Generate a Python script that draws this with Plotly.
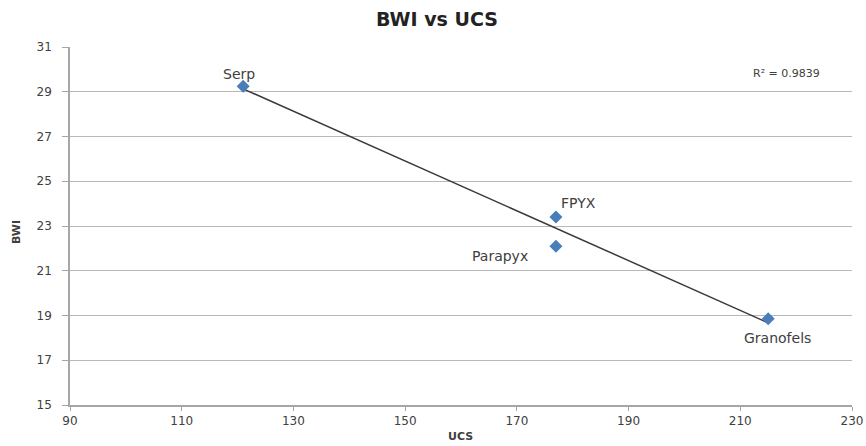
import numpy as np
import plotly.graph_objects as go

rocks = ["Serp", "FPYX", "Parapyx", "Granofels"]
ucs = [121, 177, 177, 215]
bwi = [29.25, 23.4, 22.1, 18.85]
r2_text = "R² = 0.9839"

# label pixel offsets (style only)
label_dx = [-4, 23, -56, 9]
label_dy = [12, 14, -10, -19]

slope, intercept = np.polyfit(ucs, bwi, 1)
tx = [min(ucs), max(ucs)]
ty = [slope * v + intercept for v in tx]

FONT = "DejaVu Sans"
TXT = "#404040"

W, H = 866, 446
ml, mr, mt, mb = 70, 14, 47, 41
pw, ph = W - ml - mr, H - mt - mb


def px_to_paper(xp, yp):
    return (xp - ml) / pw, (H - mb - yp) / ph


fig = go.Figure()
fig.add_trace(go.Scatter(x=tx, y=ty, mode="lines",
                         line=dict(color="#3a3a3a", width=1.5),
                         hoverinfo="skip", showlegend=False))
fig.add_trace(go.Scatter(x=ucs, y=bwi, mode="markers",
                         marker=dict(symbol="diamond", size=10, color="#4a7ebb"),
                         showlegend=False))

for name, x, y, dx, dy in zip(rocks, ucs, bwi, label_dx, label_dy):
    fig.add_annotation(x=x, y=y, text=name, showarrow=False,
                       xshift=dx, yshift=dy, xanchor="center", yanchor="middle",
                       font=dict(family=FONT, size=14, color=TXT))

rx, ry = px_to_paper(786, 73)
fig.add_annotation(x=rx, y=ry, xref="paper", yref="paper", text=r2_text,
                   showarrow=False, xanchor="center", yanchor="middle",
                   font=dict(family=FONT, size=11, color=TXT))

ux, uy = px_to_paper(460, 437)
fig.add_annotation(x=ux, y=uy, xref="paper", yref="paper", text="<b>UCS</b>",
                   showarrow=False, xanchor="center", yanchor="middle",
                   font=dict(family=FONT, size=11, color=TXT))
bx, by = px_to_paper(17, 232)
fig.add_annotation(x=bx, y=by, xref="paper", yref="paper", text="<b>BWI</b>",
                   showarrow=False, xanchor="center", yanchor="middle", textangle=-90,
                   font=dict(family=FONT, size=11, color=TXT))

fig.update_layout(
    width=W, height=H,
    margin=dict(l=ml, r=mr, t=mt, b=mb, autoexpand=False),
    paper_bgcolor="white", plot_bgcolor="white",
    title=dict(text="<b>BWI vs UCS</b>", x=437 / W, xanchor="center",
               y=1 - 19 / H, yanchor="middle",
               font=dict(family=FONT, size=19, color="#222222")),
    font=dict(family=FONT, color=TXT),
)
fig.update_xaxes(range=[90, 230], dtick=20, tick0=90, showgrid=False,
                 showline=True, linecolor="#a6a6a6", linewidth=1.5,
                 ticks="outside", ticklen=4, tickcolor="#a6a6a6",
                 tickfont=dict(size=12, color=TXT), automargin=False,
                 ticklabelstandoff=0, ticklabeloverflow="allow", zeroline=False)
fig.update_yaxes(range=[15, 31], dtick=2, tick0=15, showgrid=True,
                 gridcolor="#b8b8b8", gridwidth=1.2,
                 showline=True, linecolor="#a6a6a6", linewidth=1.5,
                 ticks="outside", ticklen=6, tickcolor="#a6a6a6",
                 tickfont=dict(size=12, color=TXT), automargin=False,
                 ticklabelstandoff=8, zeroline=False)

fig.write_html("out.html", config={"displayModeBar": False},
               post_script="document.body.style.margin='0';document.body.style.overflow='hidden';")
